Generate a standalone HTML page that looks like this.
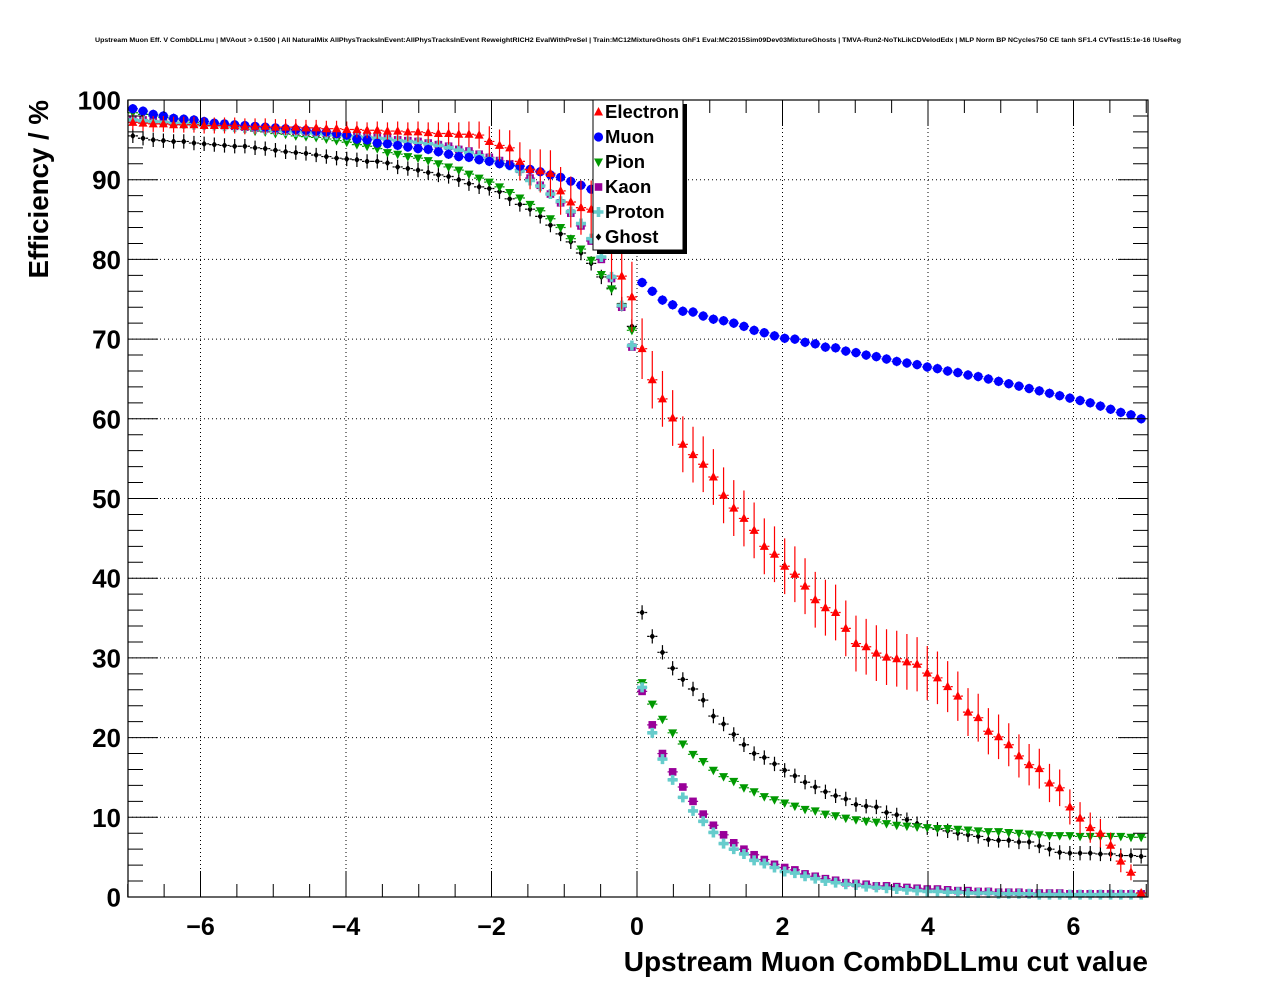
<!DOCTYPE html>
<html><head><meta charset="utf-8"><style>
body{margin:0;background:#fff;}
svg{display:block;font-family:"Liberation Sans",sans-serif;}
</style></head><body>
<svg id="chart" width="1276" height="996" viewBox="0 0 1276 996" xmlns="http://www.w3.org/2000/svg">
<rect width="1276" height="996" fill="#fff"/>
<text x="638" y="42" font-size="6.6" font-weight="bold" text-anchor="middle" textLength="1086" lengthAdjust="spacingAndGlyphs">Upstream Muon Eff. V CombDLLmu | MVAout &gt; 0.1500 | All NaturalMix AllPhysTracksInEvent:AllPhysTracksInEvent ReweightRICH2 EvalWithPreSel | Train:MC12MixtureGhosts GhF1 Eval:MC2015Sim09Dev03MixtureGhosts | TMVA-Run2-NoTkLikCDVelodEdx | MLP Norm BP NCycles750 CE tanh SF1.4 CVTest15:1e-16 !UseReg</text>
<g id="grid"></g>
<g id="series"></g>
<g id="axes"></g>
<text x="1148" y="971" font-size="28" font-weight="bold" text-anchor="end">Upstream Muon CombDLLmu cut value</text>
<text transform="translate(48,100) rotate(-90)" font-size="27.7" font-weight="bold" text-anchor="end">Efficiency / %</text>
<g id="legend"></g>
</svg>
<script>
const NS="http://www.w3.org/2000/svg";
const xTicks=[-6,-4,-2,0,2,4,6];
const xTickLabels=["\u22126","\u22124","\u22122","0","2","4","6"];
const yTicks=[0,10,20,30,40,50,60,70,80,90,100];
const yTickLabels=["0","10","20","30","40","50","60","70","80","90","100"];
const electron=[97.2,97.1,97.0,97.0,96.9,96.9,96.9,96.8,96.8,96.8,96.8,96.7,96.7,96.7,96.6,96.6,96.6,96.5,96.5,96.4,96.4,96.3,96.3,96.2,96.2,96.1,96.1,96.0,96.0,95.9,95.8,95.8,95.7,95.7,95.6,94.8,94.3,94.0,92.3,91.3,91.1,90.8,88.6,87.2,86.5,86.3,84.5,81.5,77.9,75.3,
68.8,64.9,62.5,60.1,56.8,55.5,54.3,52.7,50.4,48.8,47.5,46.0,44.0,43.0,41.5,40.5,39.0,37.3,36.3,35.7,33.7,31.8,31.4,30.6,30.1,29.9,29.5,29.2,28.1,27.5,26.4,25.2,23.2,22.5,20.8,20.1,19.1,17.7,16.6,16.1,14.3,13.7,11.3,9.9,8.7,8.0,6.5,4.5,3.1,0.5];
const electronErr=[1,1,1,1,1,1,1,1,1,1,1,1,1,1,1,1,1,1,1,1,1,1,1,1,1.1,1.1,1.2,1.2,1.3,1.3,1.4,1.4,1.5,1.6,1.7,1.9,2.0,2.2,2.4,2.5,2.7,2.9,3.0,3.2,3.4,3.6,3.8,4.0,4.2,4.4,
3.8,3.6,3.5,3.5,3.5,3.5,3.5,3.5,3.5,3.5,3.5,3.5,3.5,3.5,3.5,3.5,3.5,3.5,3.5,3.5,3.5,3.5,3.5,3.5,3.5,3.5,3.5,3.4,3.4,3.3,3.2,3.1,3.0,3.0,2.9,2.8,2.7,2.7,2.6,2.5,2.4,2.3,2.2,2.0,1.9,1.8,1.6,1.4,1.0,0.5];
const muon=[98.9,98.6,98.2,98.0,97.7,97.6,97.5,97.3,97.1,97.0,96.9,96.8,96.7,96.6,96.5,96.4,96.3,96.2,96.1,96.0,95.8,95.6,95.1,95.0,94.6,94.5,94.3,94.1,93.9,93.8,93.5,93.2,92.9,92.8,92.5,92.3,92.0,91.8,91.7,91.3,91.0,90.6,90.3,89.8,89.3,88.8,88.2,87.5,86.5,85.0,
77.1,76.0,74.9,74.3,73.5,73.4,72.9,72.5,72.3,72.0,71.6,71.1,70.8,70.4,70.1,70.0,69.6,69.4,69.0,68.9,68.5,68.3,68.0,67.8,67.5,67.2,67.0,66.8,66.5,66.3,66.0,65.8,65.5,65.3,65.0,64.7,64.4,64.1,63.8,63.5,63.2,62.9,62.6,62.3,62.0,61.6,61.2,60.8,60.5,60.0];
const pion=[98.4,98.2,98.0,97.8,97.6,97.4,97.2,97.0,96.8,96.6,96.5,96.3,96.1,96.0,95.8,95.7,95.5,95.4,95.3,95.1,94.9,94.7,94.4,94.2,93.9,93.4,93.2,92.9,92.7,92.4,92.0,91.6,91.2,90.7,90.2,89.7,89.1,88.4,87.7,86.9,86.1,85.1,84.0,82.6,81.3,79.9,78.1,76.3,74.1,71.1,
26.9,24.2,22.3,20.6,19.2,17.9,17.0,15.9,15.1,14.5,13.7,13.2,12.6,12.2,11.8,11.4,11.0,10.8,10.4,10.2,9.9,9.7,9.5,9.4,9.2,9.0,8.9,8.8,8.7,8.6,8.6,8.5,8.4,8.3,8.2,8.2,8.1,8.0,7.9,7.8,7.7,7.7,7.7,7.6,7.6,7.6,7.6,7.6,7.5,7.5];
const kaon=[97.6,97.5,97.4,97.3,97.2,97.1,97.0,96.95,96.9,96.8,96.7,96.6,96.5,96.4,96.3,96.2,96.1,96.0,95.9,95.8,95.7,95.6,95.5,95.4,95.3,95.2,95.0,94.9,94.8,94.6,94.4,94.2,93.8,93.6,93.2,92.8,92.4,92.0,91.3,90.2,89.3,88.2,87.1,85.8,84.2,82.3,80.0,77.6,74.0,69.0,
25.8,21.6,18.0,15.7,13.8,12.0,10.4,9.0,7.8,6.8,6.0,5.3,4.7,4.1,3.7,3.4,2.9,2.6,2.3,2.1,1.8,1.7,1.6,1.4,1.4,1.3,1.2,1.1,1.0,1.0,0.9,0.8,0.8,0.7,0.7,0.6,0.6,0.6,0.5,0.5,0.5,0.5,0.4,0.4,0.4,0.4,0.4,0.4,0.4,0.4];
const proton=[97.5,97.4,97.3,97.2,97.1,97.0,96.9,96.85,96.8,96.7,96.6,96.5,96.4,96.3,96.2,96.1,96.0,95.9,95.8,95.7,95.6,95.5,95.4,95.3,95.2,95.1,94.9,94.8,94.7,94.5,94.3,94.0,93.7,93.4,93.0,92.6,92.2,91.8,91.1,89.9,89.2,88.2,87.3,86.0,84.5,82.6,80.3,77.8,74.2,69.2,
26.3,20.6,17.3,14.7,12.5,10.8,9.5,8.1,6.7,6.0,5.4,4.6,4.2,3.7,3.2,3.0,2.6,2.3,2.0,1.8,1.6,1.5,1.3,1.2,1.1,1.0,0.9,0.8,0.7,0.7,0.6,0.6,0.5,0.5,0.5,0.4,0.4,0.4,0.4,0.3,0.3,0.3,0.3,0.3,0.3,0.3,0.3,0.3,0.3,0.3];
const ghost=[95.5,95.2,95.0,94.9,94.8,94.8,94.6,94.5,94.4,94.3,94.2,94.2,94.0,93.9,93.7,93.5,93.4,93.3,93.1,92.9,92.7,92.6,92.5,92.3,92.3,92.1,91.6,91.4,91.2,90.9,90.6,90.4,90.0,89.5,89.1,88.9,88.5,87.6,86.9,86.3,85.4,84.3,83.2,82.2,80.8,79.5,77.8,76.4,74.4,71.6,
35.7,32.7,30.7,28.7,27.3,26.1,24.7,22.7,21.7,20.4,19.1,18.0,17.5,16.7,15.9,15.2,14.4,13.8,13.2,12.7,12.3,11.6,11.4,11.3,10.6,10.3,9.7,9.2,8.7,8.5,8.3,8.0,7.8,7.6,7.2,7.1,7.1,6.9,6.9,6.4,6.0,5.6,5.5,5.5,5.5,5.4,5.4,5.2,5.2,5.1];
const seriesNames=["Electron","Muon","Pion","Kaon","Proton","Ghost"];

const X0=128,X1=1148,Y0=897,Y1=100;
function xs(v){return 637+(v)*72.75;}
function ys(v){return Y0-(v)*7.97;}
function el(tag,attrs,parent){const e=document.createElementNS(NS,tag);for(const k in attrs)e.setAttribute(k,attrs[k]);parent.appendChild(e);return e;}
const grid=document.getElementById('grid'),axes=document.getElementById('axes'),ser=document.getElementById('series'),leg=document.getElementById('legend');

xTicks.forEach(v=>{const l=el('line',{x1:xs(v),x2:xs(v),y1:Y1,y2:Y0,stroke:'#000','stroke-width':1,'stroke-dasharray':'1,3'},grid);

});
yTicks.slice(1,10).forEach(v=>{const l=el('line',{x1:X0,x2:X1,y1:ys(v),y2:ys(v),stroke:'#000','stroke-width':1,'stroke-dasharray':'1,3'},grid);

});

const frame=el('rect',{x:X0,y:Y1,width:X1-X0,height:Y0-Y1,fill:'none',stroke:'#000','stroke-width':1.2},axes);


let tp='';
for(let i=-14;i<=14;i++){const v=i*0.5,x=xs(v);if(x<X0-1||x>X1+1)continue;const L=(i%4===0)?26:13;tp+=`M${x},${Y0}v${-L}M${x},${Y1}v${L}`;}
for(let i=0;i<=50;i++){const v=i*2,y=ys(v);const L=(i%5===0)?30:15;tp+=`M${X0},${y}h${L}M${X1},${y}h${-L}`;}
const ticks=el('path',{d:tp,stroke:'#000','stroke-width':1,fill:'none'},axes);


xTicks.forEach((v,i)=>{const t=el('text',{x:xs(v),y:935,'font-size':25,'font-weight':'bold','text-anchor':'middle'},axes);t.textContent=xTickLabels[i];

});
yTicks.forEach((v,i)=>{const t=el('text',{x:121,y:ys(v)+9.5,'font-size':26,'font-weight':'bold','text-anchor':'end'},axes);t.textContent=yTickLabels[i];

});

const colors=["#ff0000","#0000ff","#009900","#990099","#66cccc","#000000"];
function marker(type,x,y,c,p){
 if(type===0)return el('path',{d:`M${x},${y-5}L${x+4.5},${y+3.5}L${x-4.5},${y+3.5}Z`,fill:c},p);
 if(type===1)return el('circle',{cx:x,cy:y,r:4.6,fill:c},p);
 if(type===2)return el('path',{d:`M${x-4.5},${y-3.5}L${x+4.5},${y-3.5}L${x},${y+5}Z`,fill:c},p);
 if(type===3)return el('rect',{x:x-3.8,y:y-3.8,width:7.6,height:7.6,fill:c},p);
 if(type===4)return el('path',{d:`M${x-1.8},${y-5}h3.6v3.2h3.2v3.6h-3.2v3.2h-3.6v-3.2h-3.2v-3.6h3.2Z`,fill:c},p);
 return el('path',{d:`M${x},${y-3.5}L${x+2.8},${y}L${x},${y+3.5}L${x-2.8},${y}Z`,fill:c},p);
}
const data=[electron,muon,pion,kaon,proton,ghost];
const drawOrder=[5,2,3,4,1,0];
drawOrder.forEach(si=>{
 const g=el('g',{},ser);
 
 
 const c=colors[si];let d='';
 data[si].forEach((v,k)=>{
  const xc=-6.93+0.14*k,x=xs(xc),y=ys(v);
  d+=`M${xs(xc-0.07)},${y}H${x-3}M${x+3},${y}H${xs(xc+0.07)}`;
  const e=si===0?electronErr[k]:(si===1?0.6:(si===5?0.9:0.3));
  d+=`M${x},${ys(v+e)}V${y-3}M${x},${y+3}V${ys(Math.max(0,v-e))}`;
 });
 el('path',{d:d,stroke:c,'stroke-width':1.2,fill:'none'},g);
 data[si].forEach((v,k)=>{const m=marker(si,xs(-6.93+0.14*k),ys(v),c,g);
  
  });
});

const lb=el('rect',{x:597,y:104,width:90,height:150,fill:'#000'},leg);


const lbox=el('rect',{x:593,y:100,width:90,height:150,fill:'#fff',stroke:'#000','stroke-width':1},leg);


seriesNames.forEach((n,i)=>{
 const g=el('g',{},leg);
 
 
 const y=111+25*i;
 marker(i,598.5,y+1,colors[i],g);
 const t=el('text',{x:605,y:y+7,'font-size':18.5,'font-weight':'bold'},g);t.textContent=n;
});
</script>
</body></html>
